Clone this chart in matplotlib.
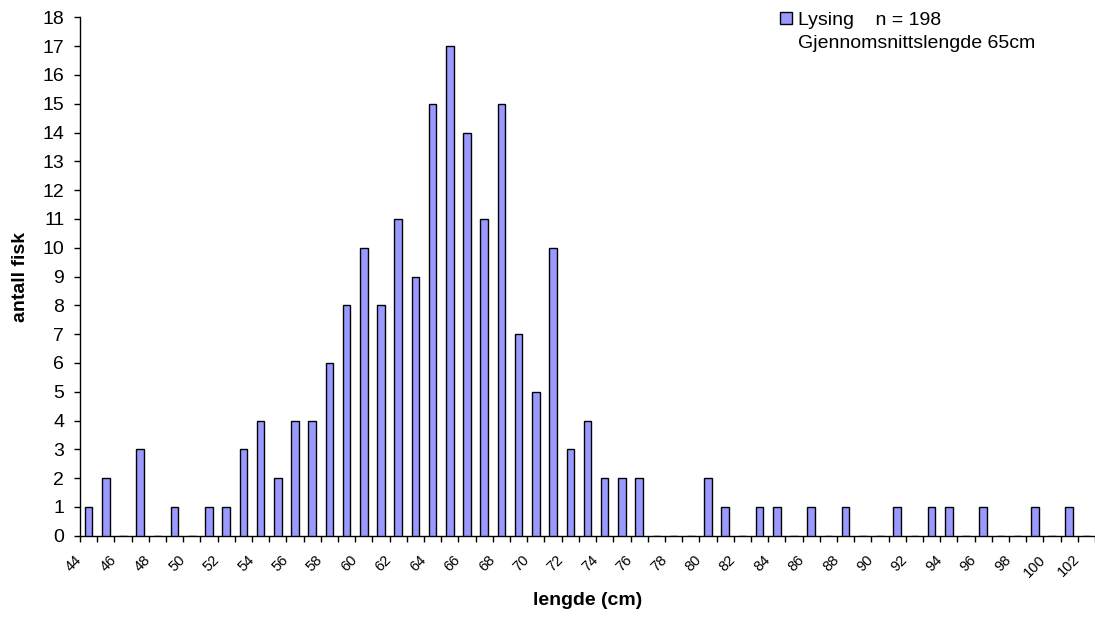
import matplotlib

matplotlib.use("Agg")
import matplotlib.pyplot as plt
from matplotlib.patches import Patch
from matplotlib.transforms import ScaledTranslation
import numpy as np

# fish length (cm) -> number of fish
LENGTHS = list(range(44, 103))
COUNTS = [
    1, 2, 0, 3, 0, 1, 0, 1, 1, 3,  # 44-53
    4, 2, 4, 4, 6, 8, 10, 8, 11, 9,  # 54-63
    15, 17, 14, 11, 15, 7, 5, 10, 3, 4,  # 64-73
    2, 2, 2, 0, 0, 0, 2, 1, 0, 1,  # 74-83
    1, 0, 1, 0, 1, 0, 0, 1, 0, 1,  # 84-93
    1, 0, 1, 0, 0, 1, 0, 1, 0,  # 94-102
]
SPECIES = "Lysing"
MEAN_TEXT = "Gjennomsnittslengde 65cm"
Y_TICKS = list(range(0, 19))

BAR_COLOR = "#9999FF"

plt.rcParams["font.family"] = ["Liberation Sans", "DejaVu Sans"]

W, H = 1095, 618
fig = plt.figure(figsize=(W / 100, H / 100), dpi=100, facecolor="white")
ax = fig.add_axes([80 / W, (H - 535.7) / H, 1015 / W, 518.4 / H])

x = np.arange(len(LENGTHS))
ax.bar(x, COUNTS, width=0.44, color=BAR_COLOR, edgecolor="black", linewidth=1.0, zorder=3)

ax.set_xlim(-0.5, len(LENGTHS) - 0.5)
ax.set_ylim(0, 18)
ax.set_yticks(Y_TICKS)
ax.tick_params(axis="y", direction="out", length=4.3, width=1, labelsize=14, pad=7)

# ticks between categories, labels on every other category
ax.set_xticks(np.arange(len(LENGTHS) + 1) - 0.5)
ax.set_xticklabels([])
ax.tick_params(axis="x", which="major", direction="out", length=4.3, width=1)
even = [i for i, v in enumerate(LENGTHS) if v % 2 == 0]
ax.set_xticks(even, minor=True)
ax.set_xticklabels([str(LENGTHS[i]) for i in even], minor=True, rotation=45, ha="right", va="top", fontsize=10.5)
ax.tick_params(axis="x", which="minor", length=0, pad=12)
shift = ScaledTranslation(-4 / 100, 0, fig.dpi_scale_trans)
for lbl in ax.get_xticklabels(minor=True):
    lbl.set_transform(lbl.get_transform() + shift)

for side in ("top", "right"):
    ax.spines[side].set_visible(False)
for side in ("left", "bottom"):
    ax.spines[side].set_color("black")
    ax.spines[side].set_linewidth(1)

ax.set_ylabel("antall fisk", fontsize=14, fontweight="bold")
ax.yaxis.set_label_coords(-0.05, 0.5)
ax.set_xlabel("lengde (cm)", fontsize=14, fontweight="bold")
ax.xaxis.set_label_coords(0.5, -0.108)

n = sum(COUNTS)
handles = [
    Patch(facecolor=BAR_COLOR, edgecolor="black", linewidth=1),
    Patch(facecolor="none", edgecolor="none"),
]
labels = [f"{SPECIES}    n = {n}", MEAN_TEXT]
fig.legend(
    handles, labels,
    loc="upper left", bbox_to_anchor=(780 / W, 1 - 12 / H),
    frameon=False, fontsize=14, borderpad=0, borderaxespad=0,
    handlelength=0.6, handleheight=0.6, handletextpad=0.3, labelspacing=0.3,
)

fig.savefig("out.png", dpi=100, facecolor="white")
